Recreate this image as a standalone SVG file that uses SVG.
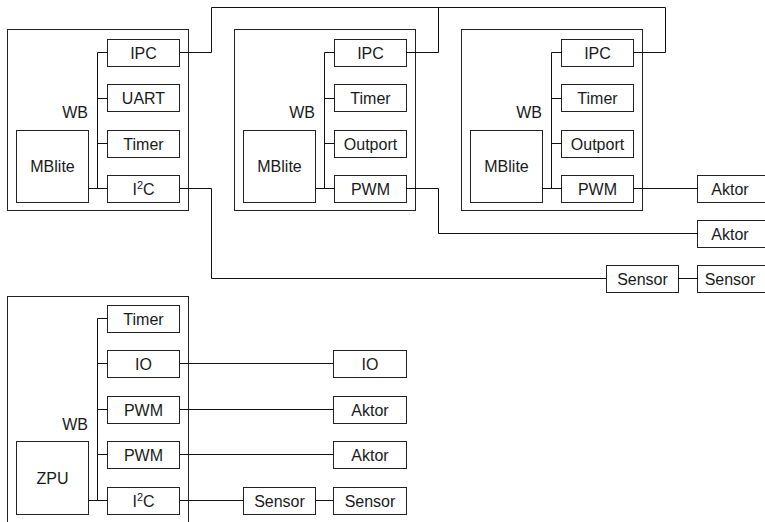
<svg xmlns="http://www.w3.org/2000/svg" width="765" height="522" viewBox="0 0 765 522">
  <style>
    rect { fill: #fff; stroke: #222; stroke-width: 1; }
    .frame { fill: none; }
    .wire { fill: none; stroke: #111; stroke-width: 1; }
    text { font-family: "Liberation Sans", Arial, sans-serif; font-size: 16px; fill: #1a1a1a; text-anchor: middle; }
    .lbl { text-anchor: end; }
    .sup { font-size: 11px; }
  </style>
  <rect width="765" height="522" style="fill:#fff;stroke:none"/>

  <!-- ===== Node 1 (MBlite, IPC/UART/Timer/I2C) ===== -->
  <g id="node1">
    <rect class="frame" x="7.5" y="29.5" width="181" height="181"/>
    <text class="lbl" x="88" y="117.5">WB</text>
    <g id="n1-cpu"><rect x="16.5" y="130.5" width="72" height="72"/><text x="52.5" y="172">MBlite</text></g>
    <g id="n1-ipc"><rect x="107.5" y="39.5" width="72" height="27"/><text x="143.5" y="58.5">IPC</text></g>
    <g id="n1-uart"><rect x="107.5" y="84.5" width="72" height="27"/><text x="143.5" y="103.5">UART</text></g>
    <g id="n1-timer"><rect x="107.5" y="130.5" width="72" height="27"/><text x="143.5" y="149.5">Timer</text></g>
    <g id="n1-i2c"><rect x="107.5" y="175.5" width="72" height="27"/><text x="143.5" y="194.5">I<tspan class="sup" dy="-5.5">2</tspan><tspan dy="5.5">C</tspan></text></g>
  </g>

  <!-- ===== Node 2 (MBlite, IPC/Timer/Outport/PWM) ===== -->
  <g id="node2">
    <rect class="frame" x="234.5" y="29.5" width="181" height="181"/>
    <text class="lbl" x="315" y="117.5">WB</text>
    <g id="n2-cpu"><rect x="243.5" y="130.5" width="72" height="72"/><text x="279.5" y="172">MBlite</text></g>
    <g id="n2-ipc"><rect x="334.5" y="39.5" width="72" height="27"/><text x="370.5" y="58.5">IPC</text></g>
    <g id="n2-timer"><rect x="334.5" y="84.5" width="72" height="27"/><text x="370.5" y="103.5">Timer</text></g>
    <g id="n2-out"><rect x="334.5" y="130.5" width="72" height="27"/><text x="370.5" y="149.5">Outport</text></g>
    <g id="n2-pwm"><rect x="334.5" y="175.5" width="72" height="27"/><text x="370.5" y="194.5">PWM</text></g>
  </g>

  <!-- ===== Node 3 (MBlite, IPC/Timer/Outport/PWM) ===== -->
  <g id="node3">
    <rect class="frame" x="461.5" y="29.5" width="181" height="181"/>
    <text class="lbl" x="542" y="117.5">WB</text>
    <g id="n3-cpu"><rect x="470.5" y="130.5" width="72" height="72"/><text x="506.5" y="172">MBlite</text></g>
    <g id="n3-ipc"><rect x="561.5" y="39.5" width="72" height="27"/><text x="597.5" y="58.5">IPC</text></g>
    <g id="n3-timer"><rect x="561.5" y="84.5" width="72" height="27"/><text x="597.5" y="103.5">Timer</text></g>
    <g id="n3-out"><rect x="561.5" y="130.5" width="72" height="27"/><text x="597.5" y="149.5">Outport</text></g>
    <g id="n3-pwm"><rect x="561.5" y="175.5" width="72" height="27"/><text x="597.5" y="194.5">PWM</text></g>
  </g>

  <!-- peripherals attached to the MBlite nodes -->
  <g id="aktor-a"><rect x="697.5" y="175.5" width="73" height="27"/><text x="730" y="194.5">Aktor</text></g>
  <g id="aktor-b"><rect x="697.5" y="220.5" width="73" height="27"/><text x="730" y="239.5">Aktor</text></g>
  <g id="sensor-a"><rect x="606.5" y="265.5" width="72" height="27"/><text x="642.5" y="284.5">Sensor</text></g>
  <g id="sensor-b"><rect x="697.5" y="265.5" width="73" height="27"/><text x="730" y="284.5">Sensor</text></g>

  <!-- ===== ZPU node ===== -->
  <g id="node4">
    <rect class="frame" x="7.5" y="296.5" width="181" height="240"/>
    <text class="lbl" x="88" y="430">WB</text>
    <g id="n4-cpu"><rect x="16.5" y="441.5" width="72" height="73"/><text x="52.5" y="483.5">ZPU</text></g>
    <g id="n4-timer"><rect x="107.5" y="305.5" width="72" height="27"/><text x="143.5" y="324.5">Timer</text></g>
    <g id="n4-io"><rect x="107.5" y="350.5" width="72" height="27"/><text x="143.5" y="369.5">IO</text></g>
    <g id="n4-pwm1"><rect x="107.5" y="396.5" width="72" height="27"/><text x="143.5" y="415.5">PWM</text></g>
    <g id="n4-pwm2"><rect x="107.5" y="441.5" width="72" height="27"/><text x="143.5" y="460.5">PWM</text></g>
    <g id="n4-i2c"><rect x="107.5" y="487.5" width="72" height="27"/><text x="143.5" y="506.5">I<tspan class="sup" dy="-5.5">2</tspan><tspan dy="5.5">C</tspan></text></g>
  </g>

  <!-- peripherals attached to the ZPU node -->
  <g id="io-ext"><rect x="333.5" y="350.5" width="73" height="27"/><text x="370" y="369.5">IO</text></g>
  <g id="aktor-c"><rect x="333.5" y="396.5" width="73" height="27"/><text x="370" y="415.5">Aktor</text></g>
  <g id="aktor-d"><rect x="333.5" y="441.5" width="73" height="27"/><text x="370" y="460.5">Aktor</text></g>
  <g id="sensor-c"><rect x="243.5" y="487.5" width="72" height="27"/><text x="279.5" y="506.5">Sensor</text></g>
  <g id="sensor-d"><rect x="333.5" y="487.5" width="73" height="27"/><text x="370" y="506.5">Sensor</text></g>

  <!-- ===== connectors ===== -->
  <g id="connectors" class="wire">
    <!-- Wishbone buses -->
    <path d="M97.5,52.5 V188.5 M97.5,52.5 H107.5 M97.5,98.5 H107.5 M97.5,143.5 H107.5 M88.5,188.5 H107.5"/>
    <path d="M324.5,52.5 V188.5 M324.5,52.5 H334.5 M324.5,98.5 H334.5 M324.5,143.5 H334.5 M315.5,188.5 H334.5"/>
    <path d="M551.5,52.5 V188.5 M551.5,52.5 H561.5 M551.5,98.5 H561.5 M551.5,143.5 H561.5 M542.5,188.5 H561.5"/>
    <path d="M97.5,318.5 V500.5 M97.5,318.5 H107.5 M97.5,363.5 H107.5 M97.5,409.5 H107.5 M97.5,454.5 H107.5 M88.5,500.5 H107.5"/>
    <!-- IPC ring -->
    <path d="M179.5,52.5 H211.5 V7.5 H665.5 V52.5 H633.5"/>
    <path d="M406.5,52.5 H438.5 V7.5"/>
    <!-- PWM outputs -->
    <path d="M633.5,188.5 H697.5"/>
    <path d="M406.5,188.5 H438.5 V233.5 H697.5"/>
    <!-- I2C chain -->
    <path d="M179.5,188.5 H211.5 V278.5 H606.5"/>
    <path d="M678.5,278.5 H697.5"/>
    <!-- ZPU peripherals -->
    <path d="M179.5,363.5 H333.5"/>
    <path d="M179.5,409.5 H333.5"/>
    <path d="M179.5,454.5 H333.5"/>
    <path d="M179.5,500.5 H243.5 M315.5,500.5 H333.5"/>
  </g>
</svg>
